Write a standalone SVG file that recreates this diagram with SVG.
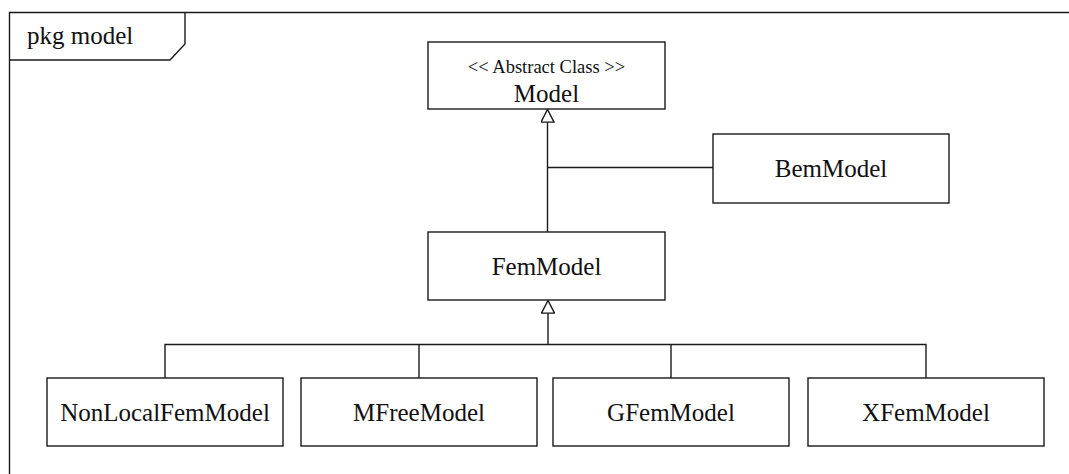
<svg xmlns="http://www.w3.org/2000/svg" width="1069" height="474" viewBox="0 0 1069 474">
  <style>
    .box { fill: #ffffff; stroke: #1a1a1a; stroke-width: 1.4; }
    .line { fill: none; stroke: #1a1a1a; stroke-width: 1.4; }
    text { font-family: "Liberation Serif", "DejaVu Serif", "Times New Roman", serif; fill: #111111; text-anchor: middle; }
    .label { font-size: 25px; }
    .stereo { font-size: 18.5px; }
  </style>
  <defs>
    <!-- hollow generalisation triangle, apex points along the path direction -->
    <marker id="gen" viewBox="0 0 14 14" refX="13.3" refY="7" markerWidth="14" markerHeight="14" markerUnits="userSpaceOnUse" orient="auto">
      <path d="M13.3,7 L0.7,0.5 L0.7,13.5 Z" fill="#ffffff" stroke="#1a1a1a" stroke-width="1.4"/>
    </marker>
  </defs>

  <rect width="1069" height="474" fill="#ffffff"/>

  <!-- package frame -->
  <g id="frame">
    <path class="line" d="M9.5,480 L9.5,12.5 L1080,12.5"/>
    <path class="line" d="M185,12.5 L185,44 L170,60 L9.5,60"/>
    <text x="27" y="44" class="label" style="text-anchor:start">pkg model</text>
  </g>

  <!-- connectors -->
  <g id="connectors">
    <!-- FemModel / BemModel to Model -->
    <path class="line" d="M547.5,232 L547.5,109.5" marker-end="url(#gen)"/>
    <path class="line" d="M547.5,167.5 L713,167.5"/>
    <!-- subclasses to FemModel -->
    <path class="line" d="M548,344.5 L548,300.5" marker-end="url(#gen)"/>
    <path class="line" d="M165,378 L165,344.5 L926,344.5 L926,378"/>
    <path class="line" d="M419,344.5 L419,378"/>
    <path class="line" d="M671,344.5 L671,378"/>
  </g>

  <g id="model">
    <rect class="box" x="428" y="42" width="237" height="67"/>
    <text x="546.5" y="73" class="stereo">&lt;&lt; Abstract Class &gt;&gt;</text>
    <text x="546.5" y="102" class="label">Model</text>
  </g>

  <g id="bemmodel">
    <rect class="box" x="713" y="134" width="236" height="69"/>
    <text x="831" y="177" class="label">BemModel</text>
  </g>

  <g id="femmodel">
    <rect class="box" x="428" y="232" width="237" height="68"/>
    <text x="546.5" y="275" class="label">FemModel</text>
  </g>

  <g id="nonlocalfemmodel">
    <rect class="box" x="47" y="378" width="236" height="68"/>
    <text x="165" y="421" class="label">NonLocalFemModel</text>
  </g>

  <g id="mfreemodel">
    <rect class="box" x="301" y="378" width="236" height="68"/>
    <text x="419" y="421" class="label">MFreeModel</text>
  </g>

  <g id="gfemmodel">
    <rect class="box" x="553" y="378" width="236" height="68"/>
    <text x="671" y="421" class="label">GFemModel</text>
  </g>

  <g id="xfemmodel">
    <rect class="box" x="808" y="378" width="236" height="68"/>
    <text x="926" y="421" class="label">XFemModel</text>
  </g>
</svg>
